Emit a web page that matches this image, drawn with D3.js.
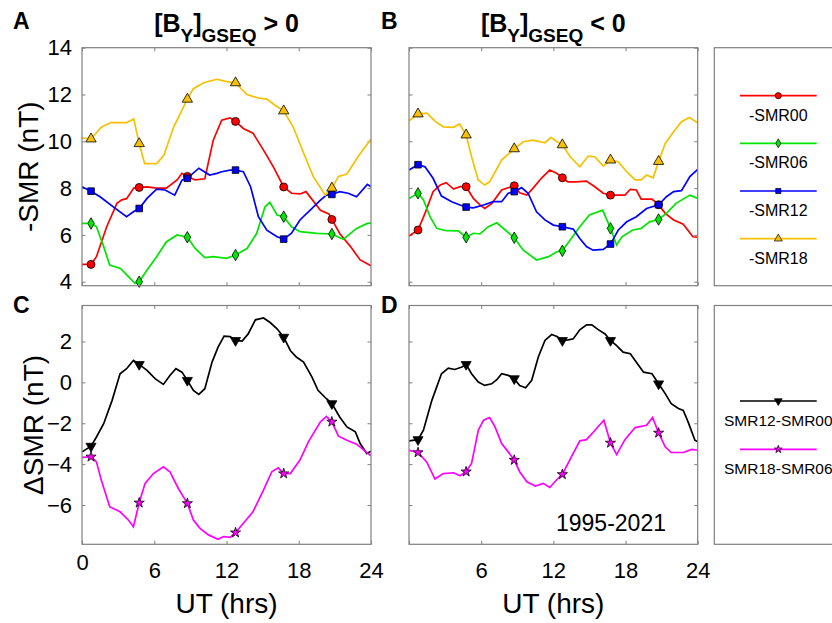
<!DOCTYPE html>
<html>
<head>
<meta charset="utf-8">
<script src="https://cdn.jsdelivr.net/npm/d3@7"></script>
<style>
  body { margin: 0; background: #fff; }
  text { font-family: "Liberation Sans", Arial, sans-serif; fill: #000; }
</style>
</head>
<body>
<div id="chart"></div>
<script>
// hours at which the curves carry a marker
var markerHours = [0.75, 4.75, 8.75, 12.75, 16.75, 20.75];

// panel A : [By]GSEQ > 0, -SMR (nT), [UT hour, value]
var smr00Pos = [[0,4.74],[0.75,4.74],[1.2,5.07],[2.05,6.35],[2.9,7.35],[3.3,7.5],[3.7,7.55],[4.3,8.0],[4.75,8.03],[5.4,8.05],[6.2,8.0],[7,8.0],[7.9,8.35],[8.3,8.63],[8.75,8.5],[9.4,8.35],[10.2,8.4],[10.9,10.05],[11.6,10.9],[12.3,11.0],[12.75,10.85],[13.4,10.55],[14.2,10.35],[15.1,9.6],[15.9,8.9],[16.75,8.05],[17.4,7.78],[18.1,7.75],[18.6,7.85],[19.8,7.05],[20.5,6.9],[20.75,6.66],[21.4,6.06],[22.3,5.5],[23.1,4.93],[24,4.68]];
var smr06Pos = [[0,6.49],[0.75,6.49],[1.2,6.35],[1.8,5.5],[2.3,4.71],[3.2,4.57],[4,4.14],[4.4,3.93],[4.75,4.0],[5.4,4.5],[6.2,5.07],[7,5.7],[7.9,6.0],[8.75,5.9],[9.4,5.42],[10.2,5.03],[10.9,5.07],[12,5.0],[12.75,5.14],[13.7,5.42],[14.5,6.06],[15.2,7.2],[15.6,7.39],[16.2,6.85],[16.75,6.78],[17.4,6.35],[18.1,6.14],[19.5,6.07],[20.75,6.04],[21.7,5.81],[22.3,6.07],[22.8,6.28],[23.7,6.49],[24,6.5]];
var smr12Pos = [[0,8.06],[0.75,7.87],[1.5,7.63],[2.6,7.2],[3.7,6.78],[4.3,7.0],[4.75,7.13],[5.4,7.56],[6.2,7.96],[6.9,7.92],[7.7,7.7],[8.3,8.34],[8.75,8.42],[9.7,8.85],[10.6,8.56],[11.2,8.63],[11.6,8.7],[12.3,8.77],[12.75,8.77],[13.4,8.7],[14,8.06],[14.65,6.78],[15.35,6.2],[16.2,5.92],[16.75,5.82],[17.4,6.07],[18.1,6.64],[18.95,7.06],[19.8,7.49],[20.3,7.7],[20.75,7.73],[21.4,7.85],[22.1,7.78],[22.8,7.63],[23.7,8.16],[24,8.06]];
var smr18Pos = [[0,10.15],[0.75,10.1],[1.6,10.6],[2.4,10.8],[3.7,10.8],[4.3,10.95],[4.75,9.9],[5.2,9.05],[6.2,9.05],[6.8,9.4],[7.6,10.6],[8.75,11.8],[9.25,12.25],[10.1,12.5],[11.2,12.65],[12,12.55],[12.75,12.5],[13.7,12.0],[14.65,11.85],[15.35,11.8],[16,11.55],[16.75,11.3],[17.55,10.6],[18.4,9.5],[19.2,8.5],[20.2,7.7],[20.75,8.0],[21.3,8.5],[22,8.6],[23,9.4],[24,10.1]];

// panel B : [By]GSEQ < 0
var smr00Neg = [[0,5.95],[0.75,6.21],[1.33,6.92],[2.0,7.85],[2.6,8.13],[3.1,8.23],[3.7,7.96],[4.24,8.06],[4.75,8.06],[5.35,7.56],[5.9,7.28],[6.3,7.13],[6.9,7.35],[7.7,7.92],[8.75,8.1],[9.2,7.8],[9.8,7.7],[10.3,7.99],[11,8.42],[11.7,8.77],[12.3,8.63],[12.75,8.44],[13.2,8.27],[13.9,8.27],[14.75,8.3],[15.45,8.06],[16.15,7.78],[16.75,7.7],[17.4,7.7],[17.95,7.7],[18.4,7.95],[18.9,7.92],[19.3,7.53],[20.2,7.53],[20.75,7.29],[21.3,6.92],[22,6.64],[22.8,6.46],[23.6,5.92],[24,5.9]];
var smr06Neg = [[0,7.56],[0.75,7.78],[1.2,7.49],[1.75,6.78],[2.3,6.28],[3.1,6.18],[4.1,6.17],[4.75,5.9],[5.35,6.07],[5.9,6.04],[6.6,6.35],[7.3,6.52],[8.0,6.21],[8.75,5.88],[9.5,5.35],[10.6,4.93],[11.6,5.07],[12.3,5.28],[12.75,5.32],[13.4,5.78],[14.2,6.35],[15.0,6.85],[16.1,7.06],[16.75,6.28],[17.26,5.57],[17.7,5.92],[18.6,6.21],[19.3,6.28],[20,6.56],[20.75,6.66],[21.4,6.92],[22.2,7.35],[23.35,7.7],[24,7.56]];
var smr12Neg = [[0,8.77],[0.75,9.0],[1.33,8.91],[2.0,8.42],[2.7,7.66],[3.55,7.42],[4.24,7.28],[4.75,7.19],[5.35,7.16],[6.2,7.28],[7.0,7.42],[7.7,7.42],[8.25,7.78],[8.75,7.85],[9.36,8.02],[9.9,7.78],[10.6,6.99],[11.3,6.64],[12.0,6.42],[12.75,6.35],[13.65,6.25],[14.2,5.85],[14.75,5.5],[15.3,5.35],[16.15,5.38],[16.75,5.61],[17.4,6.21],[18.1,6.56],[18.9,6.78],[19.75,7.13],[20.75,7.29],[21.4,7.63],[22,7.85],[22.65,7.89],[23.35,8.49],[24,8.8]];
var smr18Neg = [[0,10.87],[0.75,11.17],[1.5,11.2],[2.2,10.84],[2.85,10.62],[3.7,10.6],[4.2,10.74],[4.75,10.27],[5.2,9.34],[5.75,8.35],[6.3,8.13],[6.7,8.27],[7.7,9.2],[8.75,9.68],[9.5,9.98],[10.3,10.05],[11.3,9.94],[11.8,10.17],[12.3,9.98],[12.75,9.85],[13.4,9.34],[14.2,8.91],[14.9,9.37],[15.45,9.34],[16.15,8.94],[16.75,9.2],[17.4,9.13],[18.1,8.7],[18.8,8.35],[19.3,8.35],[19.75,8.56],[20.3,8.44],[20.75,9.14],[21.3,9.91],[22,10.41],[22.65,10.84],[23.3,11.02],[24,10.79]];

// panels C and D : differences (nT)
var d1200Pos = [[0,-3.4],[0.75,-3.12],[1.2,-2.67],[1.8,-2.02],[2.5,-0.88],[3.16,0.42],[3.7,0.67],[4.27,1.07],[4.75,0.88],[5.4,0.59],[6.07,0.18],[6.76,-0.1],[7.3,0.34],[7.8,0.67],[8.3,0.5],[8.75,0.1],[9.25,-0.39],[9.7,-0.59],[10.2,-0.31],[10.8,0.99],[11.3,1.72],[11.8,2.26],[12.3,2.24],[12.75,2.05],[13.3,2.02],[13.8,2.37],[14.4,3.06],[15.07,3.15],[15.6,2.94],[16.2,2.62],[16.75,2.21],[17.3,1.56],[17.8,1.24],[18.4,0.99],[19.1,0.26],[19.6,-0.39],[20.3,-0.8],[20.75,-1.04],[21.4,-1.69],[22,-2.18],[22.7,-2.42],[23.1,-2.99],[23.65,-3.48],[24,-3.37]];
var d1806Pos = [[0,-3.67],[0.75,-3.64],[1.2,-3.89],[1.6,-4.78],[2.3,-6.08],[3.16,-6.33],[3.85,-6.73],[4.27,-7.06],[4.75,-5.89],[5.24,-4.94],[5.93,-4.46],[6.76,-4.13],[7.3,-4.37],[8.0,-5.19],[8.75,-5.92],[9.25,-6.73],[9.8,-7.14],[10.5,-7.46],[11.3,-7.67],[11.75,-7.54],[12.3,-7.58],[12.75,-7.35],[13.4,-6.89],[14.2,-6.33],[15.07,-5.27],[15.76,-4.37],[16.3,-4.18],[16.75,-4.46],[17.3,-4.46],[18.1,-3.8],[18.8,-2.91],[19.8,-1.93],[20.3,-1.66],[20.75,-1.93],[21.3,-2.63],[22,-2.83],[22.8,-3.02],[24,-3.59]];
var d1200Neg = [[0,-2.86],[0.75,-2.8],[1.2,-2.34],[1.9,-0.88],[2.7,0.42],[3.27,0.7],[3.8,0.63],[4.4,0.75],[4.75,0.88],[5.2,0.42],[5.76,0.02],[6.3,-0.15],[6.87,-0.07],[7.3,0.13],[7.7,0.42],[8.25,0.34],[8.75,0.18],[9.2,-0.15],[9.7,-0.26],[10.2,0.1],[10.75,1.24],[11.3,2.05],[11.86,2.34],[12.3,2.24],[12.75,2.05],[13.24,2.08],[13.66,2.13],[14.2,2.57],[14.76,2.81],[15.2,2.81],[15.7,2.59],[16.3,2.37],[16.75,2.05],[17.26,1.8],[17.8,1.48],[18.4,1.4],[18.9,0.99],[19.5,0.5],[20.2,0.42],[20.75,-0.07],[21.3,-0.55],[21.8,-1.04],[22.4,-1.28],[22.8,-1.37],[23.2,-1.93],[23.77,-2.83],[24,-2.91]];
var d1806Neg = [[0,-3.32],[0.75,-3.43],[1.47,-3.89],[2.16,-4.73],[2.85,-4.46],[3.7,-4.42],[4.24,-4.57],[4.75,-4.37],[5.2,-3.97],[5.76,-2.34],[6.2,-1.85],[6.7,-1.72],[7.15,-2.18],[7.7,-2.99],[8.25,-3.4],[8.75,-3.8],[9.2,-4.37],[9.8,-4.86],[10.5,-5.07],[11.16,-4.94],[11.7,-5.14],[12.3,-4.75],[12.75,-4.5],[13.5,-3.64],[14.2,-2.86],[14.76,-2.8],[15.46,-2.34],[16.2,-1.85],[16.75,-2.96],[17.26,-3.53],[17.95,-2.8],[18.8,-2.21],[19.75,-2.1],[20.25,-1.72],[20.75,-2.47],[21.3,-3.15],[21.8,-3.43],[22.8,-3.43],[23.5,-3.28],[24,-3.32]];

var xTicks = [0, 6, 12, 18, 24];
var yTicksTop = [4, 6, 8, 10, 12, 14];
var yTicksBottom = [-6, -4, -2, 0, 2];

var topNames = ["-SMR00", "-SMR06", "-SMR12", "-SMR18"];
var bottomNames = ["SMR12-SMR00", "SMR18-SMR06"];

// styles per series
var topStyles = [
  {color: "#ff0000", sym: d3.symbolCircle, size: 50, rot: 0},
  {color: "#00e600", sym: d3.symbolDiamond, size: 38, rot: 0},
  {color: "#0000ff", sym: d3.symbolSquare, size: 44, rot: 0},
  {color: "#f8c000", sym: d3.symbolTriangle, size: 46, rot: 0}
];
var bottomStyles = [
  {color: "#000000", sym: d3.symbolTriangle, size: 44, rot: 180},
  {color: "#ff00ff", sym: d3.symbolStar, size: 32, rot: 0}
];

var svg = d3.select("#chart").append("svg")
  .attr("width", 832)
  .attr("height", 623);

var font = "'Liberation Sans', Arial, sans-serif";
var boxColor = "#808080";

function drawPanel(p) {
  var x = d3.scaleLinear().domain([0, 24]).range([p.left, p.right]);
  var y = d3.scaleLinear().domain(p.yDomain).range([p.bottom, p.top]);
  var g = svg.append("g");

  // inward ticks on all four sides
  var bottomAxis = d3.axisBottom(x).tickValues(xTicks).tickSizeInner(-3.5).tickSizeOuter(0).tickPadding(18)
    .tickFormat(function(d) { return p.xLabels.indexOf(d) >= 0 ? d : ""; });
  var topAxis = d3.axisTop(x).tickValues(xTicks).tickSizeInner(-3.5).tickSizeOuter(0).tickFormat("");
  var leftAxis = d3.axisLeft(y).tickValues(p.yTicks).tickSizeInner(-3.5).tickSizeOuter(0).tickPadding(10)
    .tickFormat(p.yLabels ? d3.format("d") : "");
  var rightAxis = d3.axisRight(y).tickValues(p.yTicks).tickSizeInner(-3.5).tickSizeOuter(0).tickFormat("");

  [[bottomAxis, `translate(0,${p.bottom})`], [topAxis, `translate(0,${p.top})`],
   [leftAxis, `translate(${p.left},0)`], [rightAxis, `translate(${p.right},0)`]].forEach(function(a) {
    var ag = g.append("g").attr("transform", a[1]).call(a[0]);
    ag.select(".domain").remove();
    ag.selectAll("line").attr("stroke", boxColor).attr("stroke-width", 1);
    ag.selectAll("text").attr("font-size", 22).attr("font-family", font).attr("fill", "#000");
  });
  g.selectAll(".tick text").filter(function(d) { return p.yTicks.indexOf(d) >= 0; }).attr("dy", "0.33em");

  var clipId = "clip" + p.id;
  svg.append("clipPath").attr("id", clipId).append("rect")
    .attr("x", p.left).attr("y", p.top).attr("width", p.right - p.left).attr("height", p.bottom - p.top);

  var line = d3.line().x(d => x(d[0])).y(d => y(d[1]));
  var plot = g.append("g").attr("clip-path", `url(#${clipId})`);
  p.series.forEach(function(s, i) {
    var st = p.styles[i];
    plot.append("path").datum(s)
      .attr("fill", "none")
      .attr("stroke", st.color)
      .attr("stroke-width", 1.7)
      .attr("d", line);
  });
  p.series.forEach(function(s, i) {
    var st = p.styles[i];
    g.selectAll(null)
      .data(s.filter(d => markerHours.indexOf(d[0]) >= 0))
      .enter().append("path")
      .attr("d", d3.symbol().type(st.sym).size(st.size))
      .attr("transform", d => `translate(${x(d[0])},${y(d[1])}) rotate(${st.rot})`)
      .attr("fill", st.color)
      .attr("stroke", "#000")
      .attr("stroke-width", 0.8);
  });

  g.append("rect")
    .attr("x", p.left).attr("y", p.top)
    .attr("width", p.right - p.left).attr("height", p.bottom - p.top)
    .attr("fill", "none").attr("stroke", boxColor).attr("stroke-width", 1.2);
}

var leftX = [82, 371];
var rightX = [409, 697.7];
var topY = [47.7, 285.7];
var botY = [305.5, 544.3];

drawPanel({id: "A", left: leftX[0], right: leftX[1], top: topY[0], bottom: topY[1], yDomain: [3.83, 14],
  yTicks: yTicksTop, yLabels: true, xLabels: [], series: [smr00Pos, smr06Pos, smr12Pos, smr18Pos], styles: topStyles});
drawPanel({id: "B", left: rightX[0], right: rightX[1], top: topY[0], bottom: topY[1], yDomain: [3.83, 14],
  yTicks: yTicksTop, yLabels: false, xLabels: [], series: [smr00Neg, smr06Neg, smr12Neg, smr18Neg], styles: topStyles});
drawPanel({id: "C", left: leftX[0], right: leftX[1], top: botY[0], bottom: botY[1], yDomain: [-7.92, 3.76],
  yTicks: yTicksBottom, yLabels: true, xLabels: [0, 6, 12, 18, 24], series: [d1200Pos, d1806Pos], styles: bottomStyles});
drawPanel({id: "D", left: rightX[0], right: rightX[1], top: botY[0], bottom: botY[1], yDomain: [-7.92, 3.76],
  yTicks: yTicksBottom, yLabels: false, xLabels: [6, 12, 18, 24], series: [d1200Neg, d1806Neg], styles: bottomStyles});

// legends
function drawLegend(top, bottom, names, styles, lineYs, textSize) {
  var g = svg.append("g");
  g.append("rect").attr("x", 714.3).attr("y", top).attr("width", 200).attr("height", bottom - top)
    .attr("fill", "#fff").attr("stroke", boxColor).attr("stroke-width", 1.2);
  names.forEach(function(n, i) {
    var st = styles[i];
    var ly = lineYs[i];
    g.append("line").attr("x1", 740).attr("x2", 816.7).attr("y1", ly).attr("y2", ly)
      .attr("stroke", st.color).attr("stroke-width", 1.7);
    g.append("path")
      .attr("d", d3.symbol().type(st.sym).size(st.size * 0.6))
      .attr("transform", `translate(778.3,${ly}) rotate(${st.rot})`)
      .attr("fill", st.color).attr("stroke", "#000").attr("stroke-width", 0.7);
    g.append("text").attr("x", 778.3).attr("y", ly + 25).attr("text-anchor", "middle")
      .attr("font-size", textSize).text(n);
  });
}
drawLegend(topY[0], topY[1], topNames, topStyles, [95.7, 143.3, 191, 238.7], 16);
drawLegend(botY[0], botY[1], bottomNames, bottomStyles, [401, 449.3], 15.5);

// panel letters
[["A", 13, 29], ["B", 381, 29], ["C", 13, 313], ["D", 381, 313]].forEach(function(l) {
  svg.append("text").attr("x", l[1]).attr("y", l[2]).attr("font-size", 23).attr("font-weight", "bold").text(l[0]);
});

// titles [B_Y]_GSEQ > 0 / < 0
function drawTitle(cx, sign) {
  var t = svg.append("text").attr("x", cx).attr("y", 31.7).attr("text-anchor", "middle")
    .attr("font-weight", "bold").attr("font-size", 25);
  t.append("tspan").text("[B");
  t.append("tspan").attr("dy", 10).attr("font-size", 19).text("Y");
  t.append("tspan").attr("dy", -10).text("]");
  t.append("tspan").attr("dy", 10).attr("font-size", 19).text("GSEQ");
  t.append("tspan").attr("dy", -10).text(" " + sign + " 0");
}
drawTitle(226.5, ">");
drawTitle(553.3, "<");

// axis labels
svg.append("text").attr("transform", "translate(38,166.7) rotate(-90)").attr("text-anchor", "middle")
  .attr("font-size", 28).text("-SMR (nT)");
svg.append("text").attr("transform", "translate(43,424.9) rotate(-90)").attr("text-anchor", "middle")
  .attr("font-size", 28).text("\u0394SMR (nT)");
svg.append("text").attr("x", 226.5).attr("y", 613).attr("text-anchor", "middle").attr("font-size", 28).text("UT (hrs)");
svg.append("text").attr("x", 553.3).attr("y", 613).attr("text-anchor", "middle").attr("font-size", 28).text("UT (hrs)");

svg.append("text").attr("x", 611).attr("y", 531).attr("text-anchor", "middle").attr("font-size", 23).text("1995-2021");
</script>
</body>
</html>
